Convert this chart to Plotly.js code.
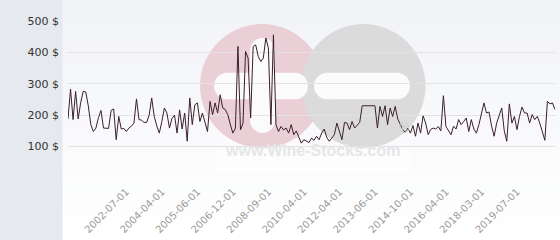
<!DOCTYPE html>
<html>
<head>
<meta charset="utf-8">
<script src="https://cdn.plot.ly/plotly-3.0.1.min.js"></script>
<style>html,body{margin:0;padding:0;background:#fff}#chart{width:560px;height:240px}</style>
</head>
<body>
<div id="chart"></div>
<script>
// Price series (USD), one value per observation, oldest first
const prices = [
188,283,186,276,188,240,276,274,230,170,
148,159,192,215,159,158,158,215,220,122,
196,156,158,148,159,165,175,252,186,184,
177,177,200,255,196,166,143,180,223,207,
159,190,200,143,217,156,207,117,255,170,
233,239,180,207,175,148,244,202,239,207,
265,223,218,202,170,143,159,419,153,175,
403,382,191,419,424,387,371,382,446,414,
170,456,170,148,164,153,159,143,170,138,
150,127,111,122,117,113,127,120,133,122,
143,156,130,117,127,138,175,150,122,177,
175,154,180,159,170,177,230,230,230,230,
230,230,159,228,196,230,170,223,196,228,
188,170,154,145,159,143,167,133,175,143,
198,175,138,155,159,156,164,150,262,164,
152,138,165,156,186,170,180,191,148,186,
156,143,170,200,239,207,210,165,133,175,
196,223,150,117,236,175,196,154,196,226,
207,207,175,202,186,196,175,143,120,244,
236,239,218
];
// Date labels shown on the x axis
const tickLabels = ['2002-07-01','2004-04-01','2005-06-01','2006-12-01','2008-09-01','2010-04-01',
  '2012-04-01','2013-06-01','2014-10-01','2016-04-01','2018-03-01','2019-07-01'];
const yTicks = [0,100,200,300,400,500];
const yTickText = ['','100 $','200 $','300 $','400 $','500 $'];

const xIdx = prices.map((_, i) => i);
const firstTick = 23, tickStep = 14;
const tickVals = tickLabels.map((_, k) => firstTick + tickStep * k);

// pixel -> paper helpers for decorative shapes
const L = 68, R = 555, T = 21, B = 178;
const px = v => (v - L) / (R - L);
const py = v => (B - v) / (B - T);
function rect(x0, y0, x1, y1, color, extra) {
  return Object.assign({type:'rect', xref:'paper', yref:'paper', layer:'below',
    x0:px(x0), x1:px(x1), y0:py(y1), y1:py(y0), fillcolor:color, line:{width:0}}, extra||{});
}
function circ(cx, cy, r, color) {
  return {type:'circle', xref:'paper', yref:'paper', layer:'below',
    x0:px(cx-r), x1:px(cx+r), y0:py(cy+r), y1:py(cy-r), fillcolor:color, line:{width:0}};
}
function hpill(x0, x1, cy, r, color) {
  return [rect(x0+r, cy-r, x1-r, cy+r, color), circ(x0+r, cy, r, color), circ(x1-r, cy, r, color)];
}
function vpill(cx, y0, y1, r, color) {
  return [rect(cx-r, y0+r, cx+r, y1-r, color), circ(cx, y0+r, r, color), circ(cx, y1-r, r, color)];
}

const shapes = [];
// gradient background right of the grey band
const bands = 16;
for (let k = 0; k < bands; k++) {
  const t = k / (bands - 1);
  const c0 = [242,243,247], c1 = [255,255,255];
  const c = c0.map((a, j) => Math.round(a + (c1[j] - a) * t));
  shapes.push(rect(62, 240 * k / bands, 560, 240 * (k + 1) / bands + 0.5, `rgb(${c.join(',')})`));
}
// grey left band
shapes.push(rect(0, 0, 62.5, 240, '#e6e9ed'));
// watermark logo
shapes.push(rect(215, 150, 410, 172, 'rgba(255,255,255,0.6)'));
shapes.push(circ(262, 86, 62, '#eacfd6'));
shapes.push(circ(363.5, 86, 62, '#dbdbdc'));
shapes.push(...hpill(214, 308, 86, 13.3, '#fbfbfc'));
shapes.push(...vpill(262.5, 38, 133, 12.5, '#fbfbfc'));
shapes.push(...hpill(314, 410, 86, 13.3, '#fbfbfc'));

const trace = {
  x: xIdx, y: prices, type: 'scatter', mode: 'lines',
  line: {color: '#3b1f2b', width: 1}, hoverinfo: 'skip'
};

const layout = {
  width: 560, height: 240,
  margin: {l: 68, r: 5, t: 21, b: 62, pad: 0},
  paper_bgcolor: '#ffffff', plot_bgcolor: 'rgba(0,0,0,0)',
  showlegend: false,
  shapes: shapes,
  annotations: [
    {xref:'paper', yref:'paper', x: px(312), y: py(161), text: 'www.Wine-Stocks.com', showarrow: false,
     font: {family: 'Liberation Sans, Arial, sans-serif', size: 16, color: '#e6e6e8', weight: 'bold'}},
    {xref:'paper', yref:'paper', x: px(413), y: py(138), text: '®', showarrow: false,
     font: {family: 'DejaVu Sans, sans-serif', size: 14, color: '#d0d0d2'}}
  ],
  xaxis: {
    range: [0, prices.length - 1], showgrid: false, zeroline: false, showline: false,
    tickmode: 'array', tickvals: tickVals, ticktext: tickLabels, tickangle: -45,
    ticks: '', ticklabelstandoff: 5,
    tickfont: {family: 'DejaVu Sans, sans-serif', size: 10, color: '#9a9a9a'}
  },
  yaxis: {
    range: [0, 500], showgrid: true, gridcolor: '#e2e2e2', gridwidth: 1, zeroline: false, showline: false,
    tickmode: 'array', tickvals: yTicks, ticktext: yTickText, ticks: '',
    ticklabelstandoff: 8,
    tickfont: {family: 'DejaVu Sans, sans-serif', size: 11, color: '#333333'}
  }
};

Plotly.newPlot('chart', [trace], layout, {staticPlot: true, displayModeBar: false});
</script>
</body>
</html>
